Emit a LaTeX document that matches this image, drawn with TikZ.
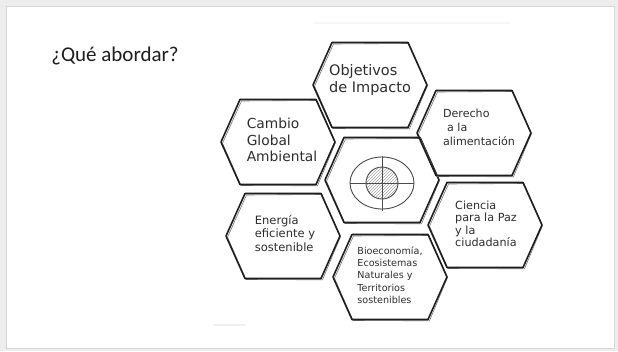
\documentclass[tikz,border=0pt]{standalone}
\usepackage{fontspec}
\setmainfont{DejaVu Sans}
\newfontfamily\titlefont{Carlito}
\usetikzlibrary{calc, patterns}
\definecolor{inkdark}{RGB}{30,30,30}
\definecolor{textgray}{RGB}{45,45,45}
\definecolor{framegray}{RGB}{214,214,214}

\begin{document}
\begin{tikzpicture}[x=1pt, y=-1pt,
    hexline/.style={draw=inkdark, line width=1.6pt, line join=round},
    hexsketch/.style={draw=inkdark!60, line width=0.6pt, line join=round},
    hextext/.style={align=left, text=textgray, inner sep=0pt}]
    % slide frame
    \fill[framegray!45] (0,0) rectangle (618,351);
    \fill[white] (6,6) rectangle (614,348);
    \draw[framegray, line width=1pt] (6,6) rectangle (614,348);
    \useasboundingbox (0,0) rectangle (618,351);

    % faint marks left from the scan
    \draw[black!3, line width=2pt] (315,23) -- (510,23);
    \draw[black!6, line width=1.5pt] (213,325) -- (245,325);

    \node[font=\titlefont\fontsize{21}{24}\selectfont, text=inkdark] (title) at (115,56) {¿Qué abordar?};

    % hexagon centres
    \coordinate (hObj) at (370,85);
    \coordinate (hCam) at (278,142);
    \coordinate (hMid) at (382,180);
    \coordinate (hDer) at (474,133);
    \coordinate (hEne) at (283,236);
    \coordinate (hCie) at (485,225);
    \coordinate (hBio) at (390,277);

    \foreach \c in {hObj, hCam, hMid, hDer, hEne, hCie, hBio} {
        \draw[hexsketch] ([shift={(-55.5,1.2)}]\c) -- ([shift={(-36.5,-41)}]\c) -- ([shift={(39,-41.5)}]\c)
            -- ([shift={(57.5,0.5)}]\c) -- ([shift={(39.5,43.8)}]\c) -- ([shift={(-37,43.5)}]\c) -- cycle;
        \draw[hexline] ([shift={(-57,0)}]\c) -- ([shift={(-38,-42.5)}]\c) -- ([shift={(38,-42.5)}]\c)
            -- ([shift={(57,0)}]\c) -- ([shift={(38,42.5)}]\c) -- ([shift={(-38,42.5)}]\c) -- cycle;
    }

    % target in the middle
    \node[circle, draw=inkdark!80, line width=0.9pt, minimum size=32pt, inner sep=0pt,
        fill=gray!12, pattern=north east lines, pattern color=gray!70] (diana) at (382,183) {};
    \draw[inkdark!80, line width=0.9pt] (diana) ellipse (32pt and 26pt);
    \draw[inkdark!80, line width=0.9pt] ([yshift=27pt]diana.center) -- ([yshift=-28pt]diana.center);
    \draw[inkdark!80, line width=0.9pt] ([xshift=-32pt]diana.center) -- ([xshift=32pt]diana.center);

    \node[hextext, font=\fontsize{14.5}{16.5}\selectfont] (obj) at (370,80) {Objetivos\\de Impacto};
    \node[hextext, font=\fontsize{13.8}{16.5}\selectfont] (cambio) at (282,140) {Cambio\\Global\\Ambiental};
    \node[hextext, font=\fontsize{11.1}{14}\selectfont] (derecho) at (479,127) {Derecho\\\hspace{4pt}a la\\alimentación};
    \node[hextext, font=\fontsize{11.5}{13.5}\selectfont] (energia) at (285,233) {Energía\\eficiente y\\sostenible};
    \node[hextext, font=\fontsize{11.2}{12.5}\selectfont] (ciencia) at (486,224) {Ciencia\\para la Paz\\y la\\ciudadanía};
    \node[hextext, font=\fontsize{9.6}{12.3}\selectfont] (bio) at (390,275) {Bioeconomía,\\Ecosistemas\\Naturales y\\Territorios\\sostenibles};
\end{tikzpicture}
\end{document}
